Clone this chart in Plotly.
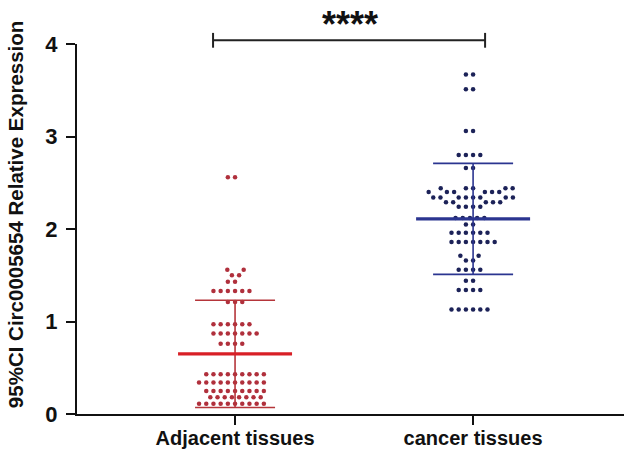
import plotly.graph_objects as go
import numpy as np

# ---------------- data ----------------
categories = ["Adjacent tissues", "cancer tissues"]
y_title = "95%CI Circ0005654 Relative Expression"

adjacent = [2.56, 2.56,
            1.56, 1.56, 1.50, 1.50, 1.43, 1.43,
            1.33, 1.33, 1.33, 1.33, 1.33, 1.33,
            1.21, 1.21, 1.21,
            0.97, 0.97, 0.97, 0.97, 0.97, 0.97,
            0.87, 0.87, 0.87, 0.87, 0.87, 0.87, 0.87,
            0.76, 0.76, 0.76, 0.76,
            0.43, 0.43, 0.43, 0.43, 0.43, 0.43, 0.43, 0.43, 0.43,
            0.34, 0.34, 0.34, 0.34, 0.34, 0.34, 0.34, 0.34, 0.34, 0.34,
            0.25, 0.25, 0.25, 0.25, 0.25, 0.25, 0.25, 0.25, 0.25,
            0.18, 0.18, 0.18, 0.18, 0.18, 0.18, 0.18, 0.18,
            0.11, 0.11, 0.11, 0.11, 0.11, 0.11, 0.11, 0.11, 0.11, 0.11,
            -0.06, -0.06, -0.06, -0.06, -0.06]

cancer = [3.67, 3.67, 3.51, 3.51, 3.06, 3.06,
          2.80, 2.80, 2.80, 2.80, 2.66, 2.66,
          2.44, 2.44, 2.44, 2.44, 2.44,
          2.40, 2.40, 2.40, 2.40, 2.40, 2.40,
          2.34, 2.34, 2.34, 2.34, 2.34, 2.34, 2.34, 2.34,
          2.29, 2.29, 2.29, 2.29, 2.29,
          2.24, 2.24, 2.24, 2.24,
          2.12, 2.12, 2.12, 2.12, 2.12, 2.05, 2.05,
          1.96, 1.96, 1.96, 1.96, 1.96, 1.96,
          1.86, 1.86, 1.86, 1.86, 1.86, 1.86, 1.86,
          1.71, 1.71, 1.66, 1.66,
          1.56, 1.56, 1.56, 1.56, 1.44, 1.44,
          1.34, 1.34, 1.34, 1.34,
          1.13, 1.13, 1.13, 1.13, 1.13, 1.13]

means = [0.65, 2.11]
sds = [0.58, 0.60]
significance = "****"

# ---------------- styling ----------------
W, H = 624, 449
ML, MR, MT, MB = 77, 0, 44, 35
x_range = [-0.664, 1.634]
y_range = [0, 4]
px_x = (W - ML - MR) / (x_range[1] - x_range[0])
px_y = (H - MT - MB) / (y_range[1] - y_range[0])

dot_colors = ["#b0303c", "#1c2258"]
mean_colors = ["#d81f26", "#2b3590"]
bar_colors = ["#b5353a", "#2b3590"]
FONT = "Liberation Sans, Arial, sans-serif"


def swarm(values, d=7.2):
    """Classic beeswarm: offsets (in x data units) for each value."""
    vals = np.asarray(values, float)
    order = np.argsort(vals, kind="stable")
    placed = []  # (y_px, x_px)
    offs = np.zeros(len(vals))
    for idx in order:
        y = vals[idx] * px_y
        cands = [0.0]
        for (py, pxx) in placed:
            dy = abs(py - y)
            if dy < d:
                dx = np.sqrt(d * d - dy * dy)
                cands += [pxx + dx, pxx - dx]
        cands = sorted(set(cands), key=lambda c: (abs(c), c))
        for c in cands:
            ok = all((c - pxx) ** 2 + (py - y) ** 2 >= d * d - 1e-6 for (py, pxx) in placed)
            if ok:
                break
        placed.append((y, c))
        offs[idx] = c / px_x
    return offs


fig = go.Figure()
groups = [adjacent, cancer]
for i, vals in enumerate(groups):
    offs = swarm(vals)
    fig.add_trace(go.Scatter(
        x=i + offs, y=vals, mode="markers",
        marker=dict(size=4.5, color=dot_colors[i], line=dict(width=0)),
        cliponaxis=False, showlegend=False, hoverinfo="y"))

mean_half = 57 / px_x
cap_half = 40 / px_x
for i in range(len(categories)):
    m, s = means[i], sds[i]
    # SD bar
    fig.add_trace(go.Scatter(
        x=[i, i, None, i - cap_half, i + cap_half, None, i - cap_half, i + cap_half],
        y=[m - s, m + s, None, m + s, m + s, None, m - s, m - s],
        mode="lines", line=dict(color=bar_colors[i], width=1.6),
        showlegend=False, hoverinfo="skip"))
    # mean line
    fig.add_trace(go.Scatter(
        x=[i - mean_half, i + mean_half], y=[m, m], mode="lines",
        line=dict(color=mean_colors[i], width=3.2),
        showlegend=False, hoverinfo="skip"))

# significance bracket (paper coordinates computed from the axis scales)
def xp(x):
    return (x - x_range[0]) / (x_range[1] - x_range[0])

def yp(y):
    return (y - y_range[0]) / (y_range[1] - y_range[0])

bx0, bx1 = 0 - 22 / px_x, 1 + 12 / px_x
by = 4.04
cap = 0.08
fig.add_shape(type="line", xref="paper", yref="paper", x0=xp(bx0), x1=xp(bx1), y0=yp(by), y1=yp(by),
              line=dict(color="#222222", width=2))
for bx in (bx0, bx1):
    fig.add_shape(type="line", xref="paper", yref="paper", x0=xp(bx), x1=xp(bx),
                  y0=yp(by - cap), y1=yp(by + cap), line=dict(color="#222222", width=2))
fig.add_annotation(xref="paper", yref="paper", x=xp((bx0 + bx1) / 2 + 0.005), y=yp(4.21),
                   text=significance, showarrow=False, yanchor="middle",
                   font=dict(family=FONT, size=36, color="#111111", weight="bold"))

# y-axis title as a rotated annotation (centred a bit higher than the plot middle)
fig.add_annotation(xref="paper", yref="paper", x=-62 / (W - ML - MR), y=yp(2.15),
                   text=y_title, textangle=-90, showarrow=False,
                   xanchor="center", yanchor="middle",
                   font=dict(family=FONT, size=20.5, color="#111111", weight="bold"))

fig.update_layout(
    width=W, height=H,
    margin=dict(l=ML, r=MR, t=MT, b=MB, pad=0, autoexpand=False),
    plot_bgcolor="white", paper_bgcolor="white",
    font=dict(family=FONT, color="#111111"),
    xaxis=dict(range=x_range, tickvals=[0, 1], ticktext=categories,
               showline=True, linecolor="#111111", linewidth=2,
               ticks="outside", ticklen=9, tickwidth=1.5, tickcolor="#111111",
               ticklabelstandoff=-4,
               tickfont=dict(size=20, weight="bold", family=FONT),
               automargin=False,
               showgrid=False, zeroline=False, fixedrange=True),
    yaxis=dict(range=y_range, tickvals=[0, 1, 2, 3, 4],
               showline=True, linecolor="#111111", linewidth=2,
               ticks="outside", ticklen=9, tickwidth=1.5, tickcolor="#111111",
               ticklabelstandoff=4,
               tickfont=dict(size=22, weight="bold", family=FONT),
               automargin=False,
               showgrid=False, zeroline=False, fixedrange=True),
)

fig.write_html("out.html", config={"displayModeBar": False},
               post_script="document.body.style.margin='0';document.body.style.overflow='hidden';")
